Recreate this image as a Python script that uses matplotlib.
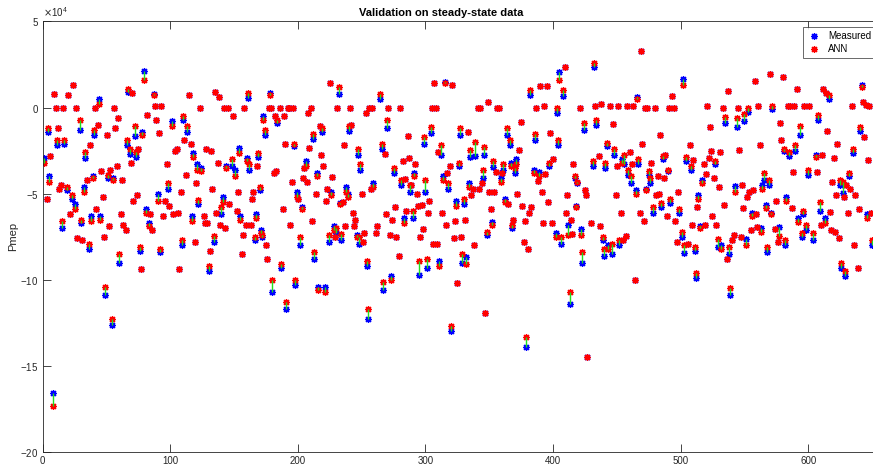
import matplotlib.pyplot as plt
import numpy as np

# sample index, measured Pmep and ANN prediction (x1e4)
sample = [
    1, 3, 4, 5, 6, 8, 9, 10, 11, 12,
    13, 14, 15, 16, 17, 19, 20, 21, 23, 24,
    25, 26, 27, 29, 30, 31, 32, 33, 35, 36,
    37, 38, 39, 40, 41, 42, 43, 44, 45, 46,
    47, 48, 49, 50, 51, 52, 53, 54, 55, 56,
    57, 58, 59, 60, 61, 62, 63, 65, 66, 67,
    68, 69, 70, 71, 72, 73, 74, 75, 76, 77,
    78, 79, 81, 82, 83, 84, 86, 87, 88, 89,
    90, 91, 92, 93, 94, 96, 97, 98, 99, 101,
    102, 104, 105, 106, 107, 108, 109, 110, 111, 112,
    113, 115, 116, 117, 118, 119, 120, 121, 122, 123,
    124, 126, 127, 128, 129, 130, 131, 132, 133, 134,
    135, 136, 137, 138, 139, 140, 141, 142, 143, 144,
    145, 146, 148, 149, 151, 152, 153, 154, 155, 156,
    157, 158, 159, 160, 161, 162, 163, 164, 165, 166,
    167, 168, 169, 170, 171, 172, 173, 174, 175, 176,
    177, 178, 179, 180, 181, 182, 183, 184, 186, 187,
    188, 189, 190, 191, 192, 193, 194, 195, 196, 197,
    198, 199, 200, 202, 203, 204, 205, 206, 207, 208,
    209, 210, 211, 212, 213, 214, 215, 216, 217, 218,
    219, 220, 221, 222, 223, 224, 225, 226, 227, 228,
    229, 230, 231, 232, 233, 234, 235, 236, 237, 238,
    239, 240, 241, 242, 243, 244, 245, 246, 247, 248,
    249, 250, 251, 252, 253, 254, 255, 256, 257, 258,
    259, 261, 262, 264, 266, 267, 268, 269, 270, 271,
    272, 273, 274, 275, 276, 277, 279, 280, 281, 282,
    283, 284, 285, 286, 287, 288, 289, 290, 291, 292,
    293, 294, 295, 296, 297, 298, 299, 300, 301, 302,
    303, 304, 305, 306, 307, 308, 309, 310, 311, 312,
    313, 314, 315, 316, 317, 318, 319, 320, 321, 322,
    323, 324, 325, 326, 327, 328, 329, 330, 331, 332,
    333, 334, 335, 336, 337, 338, 339, 341, 342, 343,
    344, 345, 346, 347, 348, 349, 350, 351, 352, 353,
    354, 355, 356, 358, 359, 360, 361, 362, 364, 365,
    366, 367, 368, 369, 370, 371, 372, 373, 375, 376,
    377, 378, 379, 380, 381, 382, 383, 385, 386, 387,
    388, 389, 390, 391, 392, 393, 394, 395, 396, 397,
    398, 399, 400, 402, 403, 404, 405, 406, 408, 409,
    410, 411, 412, 413, 414, 415, 416, 417, 418, 419,
    421, 422, 423, 424, 425, 426, 427, 430, 431, 432,
    433, 434, 436, 437, 438, 439, 440, 441, 442, 443,
    445, 446, 447, 448, 449, 450, 451, 452, 453, 454,
    455, 456, 457, 458, 459, 460, 461, 462, 463, 464,
    465, 466, 467, 468, 469, 470, 471, 472, 473, 474,
    475, 476, 477, 478, 480, 481, 482, 483, 484, 485,
    486, 487, 488, 489, 490, 491, 492, 493, 495, 496,
    497, 498, 499, 501, 502, 503, 504, 506, 507, 508,
    509, 510, 511, 512, 513, 514, 515, 517, 518, 519,
    520, 521, 522, 523, 524, 525, 526, 527, 528, 529,
    530, 531, 532, 533, 534, 535, 536, 537, 538, 539,
    540, 542, 543, 544, 545, 546, 547, 548, 549, 550,
    551, 552, 553, 554, 555, 556, 557, 558, 559, 560,
    561, 562, 563, 564, 565, 567, 568, 569, 570, 571,
    572, 574, 575, 576, 577, 578, 579, 580, 581, 582,
    583, 584, 585, 586, 587, 588, 589, 590, 591, 592,
    594, 595, 596, 597, 598, 600, 601, 604, 606, 607,
    608, 609, 610, 611, 612, 613, 614, 615, 616, 617,
    618, 619, 620, 621, 622, 623, 624, 625, 626, 627,
    628, 629, 630, 631, 632, 633, 634, 635, 636, 637,
    639, 640, 641, 642, 643, 644, 645, 646, 647, 648, 649, 650,
]

measured = [
    -2.9, -5.3, -1.4, -4.0, -2.8, -16.6, 0.8, 0.0, -2.2, -1.2,
    -4.7, -4.5, -7.0, 0.0, -2.1, -4.8, 0.7, -6.2, -5.3, 1.3,
    -5.6, 0.0, -7.6, -1.3, -6.7, -7.7, -4.6, -2.9, -4.2, -8.2,
    -2.2, -6.3, -4.0, -1.6, 0.0, -5.9, -1.0, 0.5, -6.3, -3.7,
    -5.2, -7.5, -10.9, -1.6, -4.1, -6.9, -3.6, -12.6, -4.1, 0.0,
    -1.2, -3.4, -0.6, -9.0, -6.2, -4.2, -6.8, -7.1, -2.2, 0.9,
    -2.7, -3.2, 0.85, -5.4, -1.65, -2.85, -5.1, -2.4, -8.3, -9.4,
    -1.4, 2.1, -5.9, -0.45, -6.7, -6.2, -7.1, 0.8, 0.1, -0.75,
    -5.0, -1.5, -8.4, 0.1, -6.3, -5.45, -3.3, -4.7, -5.7, -0.8,
    -6.2, -2.55, -2.4, -6.1, -9.4, -4.9, -8.0, -0.7, -1.9, -3.9,
    -1.4, 0.7, -2.1, -6.3, -2.65, -7.8, -4.4, -3.3, -5.6, 0.0,
    -3.5, -6.3, -6.7, -2.4, -6.7, -9.5, -8.35, -2.5, -4.7, -7.8,
    0.9, -6.1, -3.2, 0.6, -6.8, -6.2, -5.2, 0.0, -7.0, -3.4,
    0.0, -5.6, -3.4, -0.5, -3.65, -6.0, -4.9, -2.35, -6.3, -8.5,
    -7.4, 0.0, -6.8, -2.95, 0.55, -3.6, -6.8, -5.3, -4.9, -7.7,
    -6.2, -3.4, -2.85, -4.8, -7.1, -7.5, -0.5, -1.6, -8.0, -8.8,
    0.0, 0.85, 0.0, -10.7, -3.8, -0.5, -3.7, -0.9, 0.0, -9.3,
    -5.9, -0.5, -2.1, -11.7, 0.0, 0.0, -6.8, -4.3, 0.0, -2.25,
    -10.3, -4.9, -5.3, -8.0, -5.75, -4.1, -3.5, -3.1, -4.3, -0.3,
    -2.35, 0.0, -6.6, -1.8, -8.8, -5.0, -3.8, -10.4, -1.1, -2.75,
    -1.4, -3.4, -10.4, -5.45, -4.7, -7.8, 1.45, -4.9, -4.05, -6.9,
    -7.5, -7.3, 0.0, 0.8, -5.55, -7.7, -5.5, -2.15, -6.9, -4.6,
    -5.0, -1.35, 0.0, -1.0, -6.1, -6.9, -6.5, -7.4, -2.75, -7.9,
    -3.6, -5.0, -7.8, -7.3, -0.3, -9.2, -12.3, 0.0, -4.7, 0.0,
    -4.4, -7.3, -6.9, 0.5, -2.4, -10.6, -2.7, -6.2, -1.2, 0.0,
    -7.4, -9.8, -6.5, -3.8, -5.8, -7.5, -8.6, 0.0, -4.5, -3.1,
    -6.4, -4.15, -6.0, -1.65, -2.9, -4.9, -4.5, -6.4, -3.8, -3.3,
    -5.0, -5.7, -9.7, -7.5, -5.65, -7.05, -2.1, -4.9, -9.3, -6.1,
    -5.45, -1.45, 0.0, -7.9, 1.4, 0.0, -7.9, -2.6, -8.9, -2.75,
    -6.1, -4.0, 1.5, -6.8, -3.8, -4.7, -3.4, -13.0, 1.3, -7.6,
    -6.6, -5.4, -10.2, -3.4, -1.6, -7.5, -9.0, -5.6, -6.5, -8.7,
    -1.4, -4.4, -2.85, -5.05, -4.7, -8.0, -2.8, 0.0, -4.7, 0.0,
    -4.4, -4.1, -2.75, -11.9, -7.4, 0.3, -4.9, -5.9, -6.65, -3.45,
    -4.9, -3.75, 0.0, 0.0, -4.1, -3.8, -3.6, -5.3, -1.6, -5.6,
    -2.15, -3.2, -7.0, -6.5, -3.8, -3.0, -5.0, -2.45, -0.85, -5.7,
    -7.8, -6.6, -13.9, -8.2, -6.1, 0.7, -5.8, -3.6, -1.9, 0.0,
    -4.25, -3.75, 1.25, -4.9, -6.7, 0.1, -3.85, 1.25, -5.5, -3.4,
    -1.5, -6.7, -3.0, -7.3, -0.3, -2.2, 2.05, -7.9, 0.65, 2.35,
    -6.1, -5.05, -6.8, -11.4, -6.5, -7.35, -3.3, -4.1, -5.7, -4.4,
    0.0, -7.05, -9.0, -1.3, -4.8, -5.1, -14.5, -6.7, -3.4, 2.35,
    0.1, -1.0, -2.8, -6.9, 0.2, -7.7, -8.6, -3.5, -2.25, -8.0,
    0.1, -8.5, -0.95, -2.75, -5.1, -3.4, 0.1, -8.0, -6.1, -3.0,
    -7.7, -3.25, -7.45, 0.1, -3.9, -2.6, -4.4, -3.25, 0.1, -10.0,
    -4.8, 0.6, -3.3, -6.1, 3.3, -2.1, -6.6, 0.0, -4.7, 0.0,
    -3.9, -4.4, -3.2, -6.1, 0.0, -5.05, -4.0, -5.0, -1.6, -5.8,
    -3.0, -4.1, -2.75, -6.3, -3.7, 0.0, -5.55, 0.65, 0.0, -6.6,
    -7.8, -4.9, -6.1, -7.5, 1.65, -8.45, -3.1, -7.9, -2.15, -3.65,
    -6.8, -3.05, -8.3, -9.9, -5.8, -5.1, -6.9, -4.2, -3.25, -6.8,
    -3.85, 0.1, -2.95, -1.15, -2.55, -6.3, -4.1, -3.3, -6.8, -8.1,
    -4.6, -2.6, -8.0, 0.0, -5.65, -0.9, -8.8, 0.95, -8.5, -10.9,
    -7.7, -7.4, -4.55, -1.15, 0.0, -2.45, -7.5, -4.5, -5.85, -0.8,
    -7.65, -5.2, -0.25, -4.9, -7.1, -6.1, -4.8, 1.55, -6.2, -6.95,
    0.1, -2.15, -7.0, -4.5, -4.2, -5.65, -8.4, -4.5, 1.95, -6.1,
    -0.1, -7.05, -5.45, -7.8, -6.95, -0.9, -1.9, 1.75, -2.55, -8.0,
    -5.2, 0.1, -2.8, 0.1, -5.85, -3.75, 0.1, -2.5, 1.1, -6.4,
    -1.6, -7.5, -6.2, 0.1, -7.1, -3.9, 0.1, -7.7, -2.75, -3.75,
    -0.7, -6.0, -6.8, -2.75, 1.1, -6.4, 0.85, -1.35, 0.5, -6.05,
    -7.1, -4.3, -2.95, -7.2, -5.05, -2.1, -7.6, -4.5, -9.3, -4.95,
    -5.2, -9.8, -4.5, -6.1, -3.95, -4.7, 0.1, -2.65, -8.0, -5.1,
    -9.3, -5.9, -1.35, 1.3, 0.3, -1.7, 0.15, -6.2, -3.05, 0.1, -6.1, -8.0,
]

ann = [
    -3.2, -5.3, -1.2, -4.3, -2.8, -17.3, 0.8, 0.0, -1.9, -1.2,
    -4.7, -4.5, -6.6, 0.0, -1.9, -4.6, 0.7, -6.2, -5.1, 1.3,
    -5.9, 0.0, -7.6, -0.7, -6.5, -7.7, -4.9, -2.6, -4.2, -7.9,
    -2.2, -6.6, -4.1, -1.3, 0.0, -5.9, -1.0, 0.2, -6.5, -3.7,
    -5.2, -7.5, -10.4, -1.6, -3.9, -6.9, -3.6, -12.3, -4.2, 0.0,
    -1.2, -3.4, -0.6, -8.5, -6.2, -4.2, -6.8, -7.1, -1.9, 1.1,
    -2.4, -3.2, 0.85, -5.4, -1.1, -2.6, -5.1, -2.4, -8.1, -9.4,
    -1.6, 1.6, -6.1, -0.45, -6.9, -6.2, -7.1, 0.7, 0.1, -0.75,
    -5.4, -1.5, -8.2, 0.1, -6.3, -5.45, -3.3, -4.4, -5.7, -1.1,
    -6.2, -2.55, -2.4, -6.1, -9.4, -4.9, -7.7, -0.5, -1.9, -3.9,
    -1.1, 0.7, -2.1, -6.6, -2.85, -7.8, -4.4, -3.6, -5.35, 0.0,
    -3.7, -6.3, -6.7, -2.4, -6.7, -9.2, -8.35, -2.5, -4.7, -7.45,
    0.9, -6.1, -3.2, 0.6, -6.8, -5.8, -5.5, 0.0, -7.0, -3.5,
    0.0, -5.6, -3.0, -0.5, -4.0, -6.0, -4.9, -2.65, -6.5, -8.5,
    -7.4, 0.0, -6.8, -3.1, 0.85, -3.3, -6.8, -5.3, -4.9, -7.5,
    -6.4, -3.4, -2.65, -4.6, -7.3, -7.4, -0.7, -1.3, -8.0, -8.8,
    0.0, 0.75, 0.0, -10.0, -3.8, -0.5, -3.7, -0.7, 0.0, -9.1,
    -5.9, -0.5, -2.1, -11.3, 0.0, 0.0, -6.8, -4.3, 0.0, -2.1,
    -10.0, -5.2, -5.3, -7.5, -5.9, -4.1, -3.5, -3.4, -4.3, -0.3,
    -2.35, 0.0, -6.6, -1.55, -8.4, -5.0, -4.0, -10.6, -1.1, -2.75,
    -1.2, -3.4, -10.7, -5.45, -4.7, -7.4, 1.45, -5.1, -4.05, -7.1,
    -7.5, -7.0, 0.0, 1.2, -5.6, -7.35, -5.5, -2.15, -6.9, -4.9,
    -5.2, -1.1, 0.0, -1.0, -6.1, -6.9, -6.5, -7.5, -2.4, -7.5,
    -3.3, -5.0, -7.8, -7.3, -0.3, -8.9, -11.7, 0.0, -4.7, 0.0,
    -4.6, -7.3, -6.9, 0.8, -2.1, -10.1, -2.7, -6.2, -0.7, 0.0,
    -7.4, -10.0, -6.5, -3.5, -5.8, -7.5, -8.6, 0.0, -4.2, -3.1,
    -6.7, -4.15, -6.0, -1.65, -2.9, -4.5, -4.5, -6.0, -4.0, -3.3,
    -5.0, -5.7, -8.9, -7.5, -5.65, -7.05, -1.7, -4.2, -8.8, -6.1,
    -5.45, -1.15, 0.0, -7.9, 1.4, 0.0, -7.9, -2.6, -9.2, -2.15,
    -6.1, -4.2, 1.4, -6.8, -3.8, -4.4, -3.4, -12.7, 1.3, -7.6,
    -6.6, -5.7, -10.2, -3.2, -1.2, -7.5, -8.5, -5.3, -6.5, -9.1,
    -1.4, -4.6, -2.45, -5.05, -4.7, -8.0, -2.0, 0.0, -4.7, 0.0,
    -4.4, -3.6, -2.3, -11.9, -7.25, 0.3, -4.9, -5.9, -6.8, -3.1,
    -4.9, -3.75, 0.0, 0.0, -4.35, -3.8, -3.3, -5.5, -1.2, -5.6,
    -1.9, -3.4, -6.8, -6.5, -3.5, -3.3, -5.0, -2.45, -0.85, -5.7,
    -7.8, -6.6, -13.3, -8.2, -6.1, 1.0, -5.8, -3.8, -1.55, 0.0,
    -4.25, -4.0, 1.25, -4.9, -6.7, 0.1, -3.85, 1.25, -5.5, -3.2,
    -1.5, -6.7, -3.0, -7.5, -0.05, -1.9, 1.6, -7.5, 1.0, 2.35,
    -6.1, -5.05, -7.4, -10.7, -6.5, -7.35, -3.3, -3.95, -5.8, -4.3,
    0.0, -7.4, -8.4, -0.9, -4.8, -5.1, -14.5, -6.7, -3.1, 2.6,
    0.1, -0.7, -2.8, -6.9, 0.2, -7.5, -8.2, -3.2, -2.05, -8.2,
    0.1, -7.9, -0.95, -2.4, -5.1, -3.4, 0.1, -7.7, -6.1, -3.2,
    -7.7, -2.75, -7.45, 0.1, -3.6, -2.6, -4.0, -3.25, 0.1, -10.0,
    -5.0, 0.5, -3.0, -6.1, 3.3, -2.1, -6.6, 0.0, -4.8, 0.0,
    -3.7, -4.1, -3.2, -5.8, 0.0, -5.05, -4.0, -5.0, -1.6, -5.55,
    -2.8, -4.1, -2.75, -6.3, -3.6, 0.0, -5.3, 0.65, 0.0, -6.6,
    -7.8, -4.9, -5.9, -7.2, 1.3, -8.0, -2.85, -7.9, -2.15, -3.4,
    -6.8, -3.05, -8.1, -9.6, -5.8, -5.3, -7.0, -4.4, -3.25, -6.8,
    -3.85, 0.1, -2.95, -1.15, -2.55, -6.3, -4.1, -3.1, -6.8, -7.65,
    -4.6, -2.6, -8.2, 0.0, -5.65, -0.55, -8.8, 0.95, -8.1, -10.5,
    -7.7, -7.4, -4.9, -0.6, 0.0, -2.45, -7.5, -4.5, -5.85, -0.35,
    -8.0, -5.2, 0.0, -4.9, -7.1, -6.3, -4.8, 1.55, -6.2, -6.95,
    0.1, -2.15, -7.2, -4.7, -3.8, -5.85, -8.1, -4.2, 1.95, -6.2,
    0.1, -7.05, -5.45, -7.8, -7.45, -0.9, -1.9, 1.75, -2.4, -7.7,
    -5.4, 0.1, -2.6, 0.1, -5.85, -3.75, 0.1, -2.15, 1.1, -6.65,
    -1.1, -7.3, -6.0, 0.1, -6.8, -3.6, 0.1, -7.3, -2.85, -3.75,
    -0.45, -5.5, -6.8, -2.75, 1.1, -6.7, 0.85, -1.35, 0.7, -6.05,
    -7.1, -4.3, -2.95, -7.2, -5.05, -2.1, -7.6, -4.2, -9.0, -4.3,
    -5.2, -9.5, -4.5, -6.1, -3.8, -4.7, 0.1, -2.4, -8.0, -5.1,
    -9.3, -5.9, -1.15, 1.2, 0.3, -1.7, 0.15, -6.4, -3.05, 0.1, -6.1, -7.7,
]

x = np.array(sample)
y_meas = np.array(measured) * 1e4
y_ann = np.array(ann) * 1e4

plt.rcParams['font.family'] = ['Liberation Sans', 'DejaVu Sans']
gray = '#262626'

fig = plt.figure(figsize=(8.73, 4.66), dpi=100)
ax = fig.add_axes([0.049, 0.030, 0.96, 0.924])

star = (8, 2, 0)  # 8-spoke asterisk
ax.plot(x, y_meas, linestyle='none', marker=star, ms=5, mew=0.9,
        color='#0000ff', label='Measured')
ax.plot(x, y_ann, linestyle='none', marker=star, ms=5, mew=0.9,
        color='#ff0000', label='ANN')
# error between measured and predicted
ax.vlines(x, y_meas, y_ann, colors='#1ee01e', lw=1.0, zorder=3)

ax.set_xlim(0, 657)
ax.set_ylim(-20e4, 5e4)
ax.set_xticks(range(0, 700, 100))
ax.set_yticks(np.arange(-20e4, 5.1e4, 5e4))
ax.ticklabel_format(axis='y', style='sci', scilimits=(4, 4), useMathText=True)
ax.yaxis.get_offset_text().set_fontsize(7)
ax.yaxis.get_offset_text().set_color(gray)

ax.tick_params(direction='in', top=True, right=True, length=6, width=0.6,
               labelsize=7, colors=gray, pad=3)
for s in ax.spines.values():
    s.set_linewidth(0.6)
    s.set_color(gray)

ax.set_ylabel('Pmep', fontsize=8, color=gray)
ax.yaxis.set_label_coords(-0.03, 0.5)
ax.set_title('Validation on steady-state data', fontsize=8, fontweight='bold',
             x=0.475, pad=4)

leg = ax.legend(loc='upper right', fontsize=7, frameon=True, fancybox=False,
                borderaxespad=0.6, handletextpad=0.6, borderpad=0.4,
                labelspacing=0.3, handlelength=1.6)
leg.get_frame().set_edgecolor(gray)
leg.get_frame().set_linewidth(0.6)

fig.savefig('out.png', dpi=100)
